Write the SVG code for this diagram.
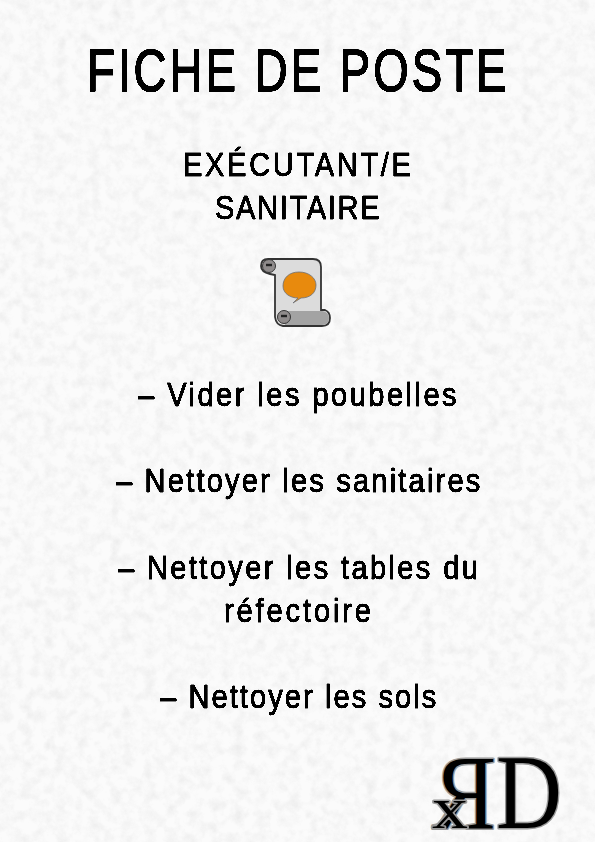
<svg xmlns="http://www.w3.org/2000/svg" width="595" height="842" viewBox="0 0 595 842">
<defs>
<style>
text{font-family:"Liberation Sans",Arial,sans-serif;fill:#000}
.t{filter:url(#crisp)}
.b{font-size:33px;stroke:#000;stroke-width:.9px}
.l{font-family:"Liberation Serif","Times New Roman",serif;fill:#000;stroke:#999;stroke-width:3px;paint-order:stroke;stroke-linejoin:round}
</style>
<filter id="paper" x="0" y="0" width="100%" height="100%">
<feTurbulence type="fractalNoise" baseFrequency="0.09" numOctaves="4" seed="7"/>
<feColorMatrix type="matrix" values="0 0 0 0 0.5 0 0 0 0 0.5 0 0 0 0 0.5 0.5 0.5 0 0 -0.42"/>
</filter>
<filter id="crisp" x="-2%" y="-10%" width="104%" height="120%" color-interpolation-filters="sRGB">
<feComponentTransfer><feFuncA type="linear" slope="5" intercept="-2"/></feComponentTransfer>
</filter>
<filter id="soft" x="-10%" y="-10%" width="120%" height="120%"><feGaussianBlur stdDeviation="0.5"/></filter>
</defs>
<rect id="bg" width="595" height="842" fill="#fbfbfb"/>
<rect width="595" height="842" filter="url(#paper)" opacity=".55"/>
<g class="t">
<text transform="translate(87 90.5) scale(.76 1)" font-size="60" textLength="552" lengthAdjust="spacing" stroke="#000" stroke-width="1.6">FICHE DE POSTE</text>
<text class="b" transform="translate(183 176) scale(.88 1)" textLength="259" lengthAdjust="spacing">EXÉCUTANT/E</text>
<text class="b" transform="translate(215 219) scale(.88 1)" textLength="187" lengthAdjust="spacing">SANITAIRE</text>
<text class="b" transform="translate(138 406) scale(.88 1)" textLength="362" lengthAdjust="spacing">– Vider les poubelles</text>
<text class="b" transform="translate(116 492) scale(.88 1)" textLength="414" lengthAdjust="spacing">– Nettoyer les sanitaires</text>
<text class="b" transform="translate(118 579) scale(.88 1)" textLength="409" lengthAdjust="spacing">– Nettoyer les tables du</text>
<text class="b" transform="translate(224 622) scale(.88 1)" textLength="167" lengthAdjust="spacing">réfectoire</text>
<text class="b" transform="translate(160 708) scale(.88 1)" textLength="314" lengthAdjust="spacing">– Nettoyer les sols</text>
</g>
<g id="scroll" filter="url(#soft)">
<path d="M268 259H313Q321 259 321 267V310H325Q330 312 330 318Q330 326 322 326H283Q276 325 275 317V275L270 274Q261 272 261 266Q261 259 268 259Z" fill="#dcdcdc" stroke="#333" stroke-width="1.8"/>
<path d="M285 311H322Q329 312 329 318Q329 325 322 325H285Z" fill="#a3a3a3"/>
<circle cx="269" cy="266" r="6.5" fill="#8f8b8b" stroke="#333"/>
<path d="M266 265H272" stroke="#222" stroke-width="2.4"/>
<circle cx="284" cy="317" r="6.5" fill="#8f8b8b" stroke="#333"/>
<path d="M281 316H287" stroke="#222" stroke-width="2.4"/>
<path d="M299 272C289 272 283 278 283 286C283 294 291 298 298 298L293 303L301 298C310 298 316 293 316 285C316 278 309 272 299 272Z" fill="#e88a0c" stroke="#6b7078" stroke-width=".8"/>
</g>
<g id="logo">
<text class="l" font-size="106" transform="translate(496 828) scale(-.9 1)">R</text>
<text class="l" font-size="106" transform="translate(496 828) scale(.86 1)">D</text>
<text class="l" font-size="60" transform="translate(432 828) scale(1.2 1)" stroke-width="3.5">x</text>
</g>
</svg>
